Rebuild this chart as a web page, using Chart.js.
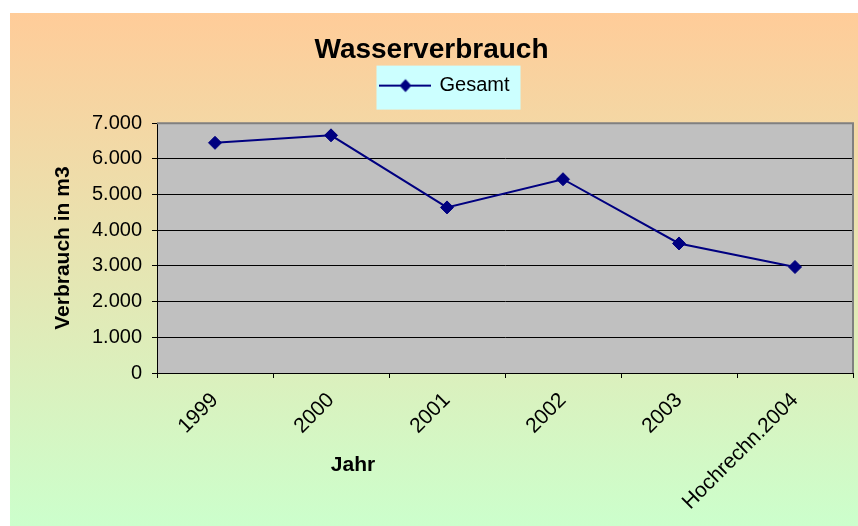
<!DOCTYPE html>
<html>
<head>
<meta charset="utf-8">
<script src="https://cdn.jsdelivr.net/npm/chart.js@4"></script>
<style>
  html, body { margin: 0; padding: 0; background: #fff; overflow: hidden; width: 858px; height: 526px; }
  #rahmen {
    position: absolute; left: 10px; top: 13px; width: 862px; height: 513px;
    background: linear-gradient(to bottom, #FFCC99 0%, #CCFFCC 100%);
  }
  canvas { display: block; }
</style>
</head>
<body>
<div id="rahmen"><canvas id="grafik" width="862" height="513"></canvas></div>
<script>
// Daten
const jahre = ["1999", "2000", "2001", "2002", "2003", "Hochrechn.2004"];
const gesamt = [6450, 6660, 4640, 5430, 3630, 2970];
const yMin = 0;
const yMax = 7000;
const yStep = 1000;

const linienFarbe = "#000080";
const schrift = "'Liberation Sans', Arial, sans-serif";

// Tausenderpunkt wie im Original (7.000)
function formatZahl(v) {
  return String(v).replace(/\B(?=(\d{3})+(?!\d))/g, ".");
}

// Legendensymbol: Linie mit Raute
function legendenSymbol() {
  const c = document.createElement("canvas");
  c.width = 52;
  c.height = 16;
  const g = c.getContext("2d");
  g.strokeStyle = linienFarbe;
  g.lineWidth = 2;
  g.beginPath();
  g.moveTo(0, 8);
  g.lineTo(52, 8);
  g.stroke();
  g.fillStyle = linienFarbe;
  g.beginPath();
  g.moveTo(26, 1.5);
  g.lineTo(32, 8);
  g.lineTo(26, 14.5);
  g.lineTo(20, 8);
  g.closePath();
  g.fill();
  return c;
}
const symbol = legendenSymbol();

// Hintergrund der Zeichenfläche, Legendenkasten, Rahmen und "Jahr"
const hilfsPlugin = {
  id: "hilfs",
  beforeLayout(chart) {
    if (chart.legend && !chart.legend._gepatcht) {
      const fit = chart.legend.fit;
      chart.legend.fit = function () {
        fit.call(this);
        this.height += 17.6;
      };
      chart.legend._gepatcht = true;
    }
  },
  afterLayout(chart) {
    // Legende im Original etwas nach rechts versetzt
    chart.legend.left += 14;
    chart.legend.right += 14;
  },
  beforeDraw(chart) {
    const { ctx, chartArea } = chart;
    ctx.save();
    ctx.fillStyle = "#C0C0C0";
    ctx.fillRect(chartArea.left, chartArea.top, chartArea.right - chartArea.left, chartArea.bottom - chartArea.top);
    const hb = chart.legend.legendHitBoxes[0];
    if (hb) {
      const cy = hb.top + hb.height / 2;
      ctx.fillStyle = "#CCFFFF";
      ctx.fillRect(hb.left - 5, cy - 20, hb.width + 16, 44);
    }
    ctx.restore();
  },
  beforeDatasetsDraw(chart) {
    const { ctx, chartArea } = chart;
    ctx.save();
    ctx.strokeStyle = "#808080";
    ctx.lineWidth = 2;
    ctx.beginPath();
    ctx.moveTo(chartArea.left, chartArea.top);
    ctx.lineTo(chartArea.right, chartArea.top);
    ctx.lineTo(chartArea.right, chartArea.bottom);
    ctx.stroke();
    ctx.restore();
  },
  afterDraw(chart) {
    const { ctx, chartArea } = chart;
    const x = chart.scales.x.getPixelForValue(1) + 22;
    ctx.save();
    ctx.font = "bold 21px " + schrift;
    ctx.fillStyle = "#000";
    ctx.textAlign = "center";
    ctx.textBaseline = "middle";
    ctx.fillText("Jahr", x, chartArea.bottom + 92);
    ctx.restore();
  },
};

const ctx = document.getElementById("grafik").getContext("2d");
const chart = new Chart(ctx, {
  type: "line",
  data: {
    labels: jahre,
    datasets: [
      {
        label: "Gesamt",
        data: gesamt,
        borderColor: linienFarbe,
        backgroundColor: linienFarbe,
        borderWidth: 2,
        pointStyle: "rectRot",
        pointRadius: 6.5,
        pointBackgroundColor: linienFarbe,
        pointBorderColor: linienFarbe,
        pointBorderWidth: 1,
        tension: 0,
        fill: false,
      },
    ],
  },
  options: {
    responsive: false,
    animation: false,
    devicePixelRatio: 1,
    layout: { padding: { left: 0, right: 19, top: 0, bottom: 0 } },
    plugins: {
      title: {
        display: true,
        text: "Wasserverbrauch",
        color: "#000",
        font: { family: schrift, size: 28, weight: "bold" },
        padding: { top: 20, bottom: 1 },
      },
      legend: {
        display: true,
        position: "top",
        labels: {
          color: "#000",
          font: { family: schrift, size: 20 },
          padding: 8,
          usePointStyle: true,
          pointStyleWidth: 48,
          generateLabels: () => [
            {
              text: "Gesamt",
              pointStyle: symbol,
              fillStyle: linienFarbe,
              strokeStyle: linienFarbe,
              lineWidth: 0,
              hidden: false,
              datasetIndex: 0,
              fontColor: "#000",
            },
          ],
        },
      },
      tooltip: { enabled: false },
    },
    scales: {
      x: {
        offset: true,
        afterFit: (s) => { s.height = 153; },
        grid: {
          offset: true,
          drawOnChartArea: false,
          drawTicks: true,
          tickLength: 5,
          color: "#000",
        },
        border: { color: "#000", width: 1 },
        ticks: {
          autoSkip: false,
          maxRotation: 45,
          minRotation: 45,
          padding: 10,
          color: "#000",
          font: { family: schrift, size: 21 },
        },
      },
      y: {
        min: yMin,
        max: yMax,
        afterFit: (s) => { s.width = 147; },
        grid: {
          color: (c) => (c.tick && c.tick.value === yMax ? "#808080" : "#000"),
          tickColor: "#000",
          drawTicks: true,
          tickLength: 5,
          lineWidth: 1,
        },
        border: { color: "#000", width: 1 },
        ticks: {
          stepSize: yStep,
          padding: 10,
          color: "#000",
          font: { family: schrift, size: 20 },
          callback: (v) => formatZahl(v),
        },
        title: {
          display: true,
          text: "Verbrauch in m3",
          color: "#000",
          font: { family: schrift, size: 21, weight: "bold" },
          padding: { top: 41, bottom: 0 },
        },
      },
    },
  },
  plugins: [hilfsPlugin],
});
</script>
</body>
</html>
